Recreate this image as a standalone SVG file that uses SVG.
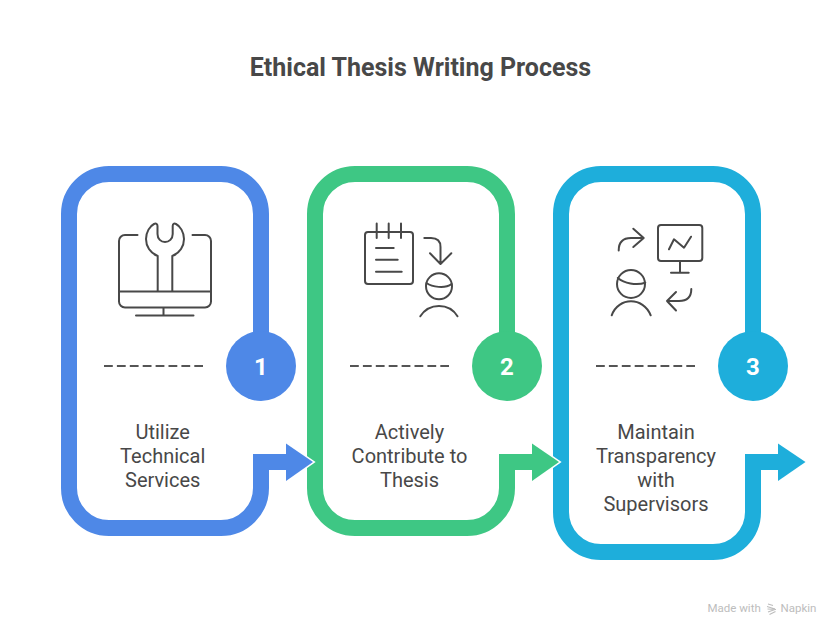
<svg xmlns="http://www.w3.org/2000/svg" width="840" height="636" viewBox="0 0 840 636">
<style>
text{font-family:Roboto,"Liberation Sans",sans-serif}
.title{font-size:25px;font-weight:700;fill:#484848;text-anchor:middle}
.label{font-size:20px;fill:#484848;text-anchor:middle}
.num{font-size:24px;font-weight:700;fill:#fff;text-anchor:middle}
.foot{font-size:11.500px;fill:#bdbdbd}
.ring,.stem{fill:none;stroke-width:16;stroke-miterlimit:10}
.head{stroke:#fff;stroke-width:3;paint-order:stroke}
.icon{fill:none;stroke:#484848;stroke-width:2;stroke-linecap:round;stroke-linejoin:round}
.dash{fill:none;stroke:#555;stroke-width:2;stroke-dasharray:8.800 4.100}
.blue{stroke:#4e88e7}.green{stroke:#3ec784}.cyan{stroke:#1eaedb}
</style>
<rect width="840" height="636" fill="#fff"/>
<text class="title" x="420.500" y="75.500">Ethical Thesis Writing Process</text>
<g id="node-1">
<path class="ring blue" d="M261 340V214a40 40 0 0 0-40-40H109a40 40 0 0 0-40 40V488a40 40 0 0 0 40 40H221a40 40 0 0 0 40-40V470"/>
<circle cx="261" cy="366" r="35" fill="#4e88e7"/>
<text class="num" x="261" y="375">1</text>
<g class="icon">
<path d="M137.500 235H125a6 6 0 0 0-6 6V301.500a6 6 0 0 0 6 6H205a6 6 0 0 0 6-6V241a6 6 0 0 0-6-6H192.500M119 291.500H211M163.500 307.500V315.500M136 315.500H193.500"/>
<path d="M157.700 291V256C150 253 146 246 146 239C146 232 150 226 154 224C156 223 157.500 224 157.500 226V234C157.500 239 161 242 165 242C169 242 172.700 239 172.700 234V226C172.700 224 174 223 176 224C180 226 184 232 184 239C184 246 180 253 172.300 256V291"/>
</g>
<path class="dash" d="M104 366H203"/>
<text class="label"><tspan x="162.700" y="439">Utilize</tspan><tspan x="162.700" y="463">Technical</tspan><tspan x="162.700" y="487">Services</tspan></text>
</g>
<g id="node-2">
<path class="ring green" d="M507 340V214a40 40 0 0 0-40-40H355a40 40 0 0 0-40 40V488a40 40 0 0 0 40 40H467a40 40 0 0 0 40-40V470"/>
<circle cx="507" cy="366" r="35" fill="#3ec784"/>
<text class="num" x="507" y="375">2</text>
<g class="icon">
<rect x="365" y="232" width="48" height="52" rx="3"/>
<path d="M376.700 223.500V238M388.700 223.500V238M401 223.500V238M376 248H393.700M376 259.700H397.700M376 271.700H401.700"/>
<path d="M424.300 238H431Q440.500 238 440.500 247V263M430 253.300L440.500 264L451.300 253.300"/>
<circle cx="439" cy="286.300" r="13"/>
<path d="M426.500 283C432 287 445 289 451.500 284M420.300 316.300C425 309 432 306 439 306C446 306 453 309 457.500 316.300"/>
</g>
<path class="dash" d="M350 366H449"/>
<text class="label"><tspan x="409.500" y="439">Actively</tspan><tspan x="409.500" y="463">Contribute to</tspan><tspan x="409.500" y="487">Thesis</tspan></text>
</g>
<g id="node-3">
<path class="ring cyan" d="M753 340V214a40 40 0 0 0-40-40H601a40 40 0 0 0-40 40V512a40 40 0 0 0 40 40H713a40 40 0 0 0 40-40V470"/>
<circle cx="753" cy="366" r="35" fill="#1eaedb"/>
<text class="num" x="753" y="375">3</text>
<g class="icon">
<rect x="658" y="225" width="44.300" height="36" rx="3"/>
<path d="M680 261V272.700M671 272.700H688.700M669 249.300L674 239.300L684 247.700L691 236.700"/>
<path d="M618.700 250.500Q618.700 238 631 238H643.700M633.300 228.700L643.700 238L633.300 247"/>
<path d="M691.300 289Q691.300 301 679 301H667M676 292L667 301L676 310.500"/>
<circle cx="631" cy="284" r="14"/>
<path d="M617.800 278C624 283 636 286 645.300 282.700M611.700 315.300C615 306 623 301.300 631 301.300C639 301.300 647 306 650.700 315.300"/>
</g>
<path class="dash" d="M596 366H695"/>
<text class="label"><tspan x="656" y="439">Maintain</tspan><tspan x="656" y="463">Transparency</tspan><tspan x="656" y="487">with</tspan><tspan x="656" y="511">Supervisors</tspan></text>
</g>
<g id="connectors">
<polygon class="head" points="286,443.500 313,462 286,481" fill="#4e88e7"/>
<path class="stem blue" d="M261 480V462H287"/>
<polygon class="head" points="532,443.500 559,462 532,481" fill="#3ec784"/>
<path class="stem green" d="M507 480V462H533"/>
<polygon class="head" points="778,443.500 805.500,462 778,481" fill="#1eaedb"/>
<path class="stem cyan" d="M753 480V462H779"/>
</g>
<g id="footer">
<text class="foot" x="707.500" y="612">Made with</text>
<path d="M768 604L773 605.500M767 606.500L775 609M767.500 609L776 609.500M768 612L775 609.500M769.500 614.500L775.500 611.500" fill="none" stroke="#bdbdbd" stroke-width="1.200"/>
<text class="foot" x="780.500" y="612">Napkin</text>
</g>
</svg>
